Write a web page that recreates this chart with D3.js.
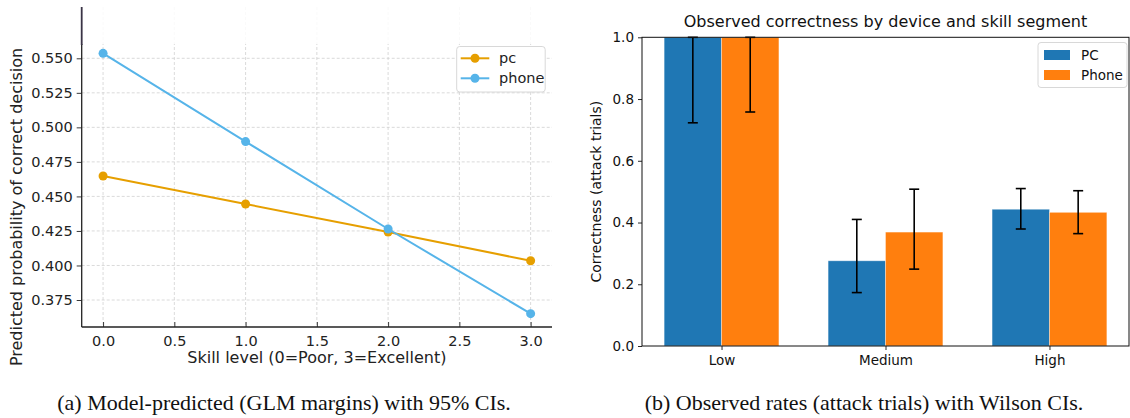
<!DOCTYPE html>
<html><head><meta charset="utf-8">
<script src="https://cdn.jsdelivr.net/npm/d3@7"></script>
<style>body{margin:0;background:#fff}svg{display:block}</style>
</head><body>
<svg id="c" width="1130" height="418"></svg>
<script>
// ---------- data ----------
const skillLevels = [0, 1, 2, 3];
const pcPred = [0.4648, 0.4445, 0.4242, 0.4034];
const phonePred = [0.5536, 0.4897, 0.4264, 0.3651];
const leftXTicks = [0.0, 0.5, 1.0, 1.5, 2.0, 2.5, 3.0];
const leftYTicks = [0.375, 0.400, 0.425, 0.450, 0.475, 0.500, 0.525, 0.550];
const leftSeriesNames = ["pc", "phone"];

const segments = ["Low", "Medium", "High"];
const pcRate = [1.0, 0.276, 0.443];
const pcLow = [0.723, 0.173, 0.379];
const pcHigh = [1.0, 0.410, 0.510];
const phoneRate = [1.0, 0.369, 0.433];
const phoneLow = [0.758, 0.249, 0.364];
const phoneHigh = [1.0, 0.508, 0.503];
const rightYTicks = [0.0, 0.2, 0.4, 0.6, 0.8, 1.0];
const rightSeriesNames = ["PC", "Phone"];

const svg = d3.select("#c");
const FONT = "DejaVu Sans, sans-serif";
const SERIF = "Liberation Serif, Times New Roman, serif";

// ---------- left chart ----------
const L = {x0: 81.7, x1: 552, y0: 7, y1: 327};
const lx = d3.scaleLinear().domain([-0.15, 3.15]).range([L.x0, L.x1]);
const ly = d3.scaleLinear().domain([0.375, 0.550]).range([300, 58.3]);
const gL = svg.append("g");

// grid
gL.append("g").selectAll("line").data(leftXTicks).join("line")
  .attr("x1", d => lx(d)).attr("x2", d => lx(d)).attr("y1", L.y0).attr("y2", L.y1)
  .attr("stroke", "#d0d0d0").attr("stroke-width", 0.8).attr("stroke-dasharray", "3,2");
gL.append("g").selectAll("line").data(leftYTicks).join("line")
  .attr("x1", L.x0).attr("x2", L.x1).attr("y1", d => ly(d)).attr("y2", d => ly(d))
  .attr("stroke", "#d0d0d0").attr("stroke-width", 0.8).attr("stroke-dasharray", "3,2");

// lines
const lineGen = d3.line().x((d, i) => lx(skillLevels[i])).y(d => ly(d));
const leftSeries = [{name: leftSeriesNames[0], vals: pcPred, color: "#E69F00"},
                    {name: leftSeriesNames[1], vals: phonePred, color: "#56B4E9"}];
leftSeries.forEach(s => {
  gL.append("path").datum(s.vals).attr("d", lineGen).attr("fill", "none")
    .attr("stroke", s.color).attr("stroke-width", 2);
  gL.append("g").selectAll("circle").data(s.vals).join("circle")
    .attr("cx", (d, i) => lx(skillLevels[i])).attr("cy", d => ly(d)).attr("r", 4.5)
    .attr("fill", s.color);
});

// faded top band
gL.append("rect").attr("x", 0).attr("y", 0).attr("width", 562).attr("height", 44)
  .attr("fill", "#fff").attr("opacity", 0.85);

// axes
const axL = d3.axisLeft(ly).tickValues(leftYTicks).tickFormat(d3.format(".3f")).tickSize(5).tickPadding(4);
const gAxL = gL.append("g").attr("transform", `translate(${L.x0},0)`).call(axL);
gAxL.select(".domain").remove();
const axB = d3.axisBottom(lx).tickValues(leftXTicks).tickFormat(d3.format(".1f")).tickSize(-5).tickPadding(9);
const gAxB = gL.append("g").attr("transform", `translate(0,${L.y1})`).call(axB);
gAxB.select(".domain").remove();
[gAxL, gAxB].forEach(g => {
  g.selectAll("text").attr("font-family", FONT).attr("font-size", 14.5).attr("fill", "#222");
  g.selectAll("line").attr("stroke", "#222").attr("stroke-width", 0.9);
});
gL.append("line").attr("x1", L.x0).attr("x2", L.x0).attr("y1", 44).attr("y2", L.y1)
  .attr("stroke", "#222").attr("stroke-width", 1.3);
gL.append("line").attr("x1", L.x0).attr("x2", L.x0).attr("y1", L.y0).attr("y2", 45)
  .attr("stroke", "#3a3346").attr("stroke-width", 1.8);
gL.append("line").attr("x1", L.x0).attr("x2", L.x1).attr("y1", L.y1).attr("y2", L.y1)
  .attr("stroke", "#222").attr("stroke-width", 1.3);

// labels
gL.append("text").attr("x", (L.x0 + L.x1) / 2).attr("y", 363).attr("text-anchor", "middle")
  .attr("font-family", FONT).attr("font-size", 16).attr("fill", "#222")
  .text("Skill level (0=Poor, 3=Excellent)");
gL.append("text").attr("transform", "translate(22,207) rotate(-90)").attr("text-anchor", "middle")
  .attr("font-family", FONT).attr("font-size", 16).attr("fill", "#222")
  .text("Predicted probability of correct decision");

// legend
const lgL = gL.append("g");
lgL.append("rect").attr("x", 456.7).attr("y", 46.5).attr("width", 88.5).attr("height", 45.5)
  .attr("rx", 3).attr("fill", "#fff").attr("stroke", "#d8d8d8").attr("stroke-width", 1);
leftSeries.forEach((s, i) => {
  const yy = 58.3 + i * 20;
  lgL.append("line").attr("x1", 460.7).attr("x2", 489.3).attr("y1", yy).attr("y2", yy)
    .attr("stroke", s.color).attr("stroke-width", 2);
  lgL.append("circle").attr("cx", 475).attr("cy", yy).attr("r", 4.5).attr("fill", s.color);
  lgL.append("text").attr("x", 499).attr("y", yy).attr("dy", "0.35em")
    .attr("font-family", FONT).attr("font-size", 14.5).attr("fill", "#222").text(s.name);
});

// caption
svg.append("text").attr("x", 284).attr("y", 410).attr("text-anchor", "middle")
  .attr("font-family", SERIF).attr("font-size", 22).attr("fill", "#111")
  .text("(a) Model-predicted (GLM margins) with 95% CIs.");

// ---------- right chart ----------
const R = {x0: 642, x1: 1129, y0: 37.3, y1: 346};
const rxIdx = d3.scaleLinear().domain([-0.485, 2.485]).range([R.x0, R.x1]);
const ry = d3.scaleLinear().domain([0, 1]).range([R.y1, R.y0]);
const barW = 0.35;
const gR = svg.append("g");

const rightSeries = [
  {name: rightSeriesNames[0], rate: pcRate, lo: pcLow, hi: pcHigh, color: "#1f77b4", off: -barW / 2},
  {name: rightSeriesNames[1], rate: phoneRate, lo: phoneLow, hi: phoneHigh, color: "#ff7f0e", off: barW / 2}
];
rightSeries.forEach(s => {
  gR.append("g").selectAll("rect").data(s.rate).join("rect")
    .attr("x", (d, i) => rxIdx(i + s.off - barW / 2))
    .attr("width", rxIdx(barW) - rxIdx(0))
    .attr("y", d => ry(d)).attr("height", d => ry(0) - ry(d))
    .attr("fill", s.color).attr("stroke", "#fff").attr("stroke-opacity", 0.45).attr("stroke-width", 0.8);
});
rightSeries.forEach(s => {
  const g = gR.append("g");
  s.rate.forEach((d, i) => {
    const cx = rxIdx(i + s.off);
    g.append("line").attr("x1", cx).attr("x2", cx).attr("y1", ry(s.lo[i])).attr("y2", ry(s.hi[i]))
      .attr("stroke", "#000").attr("stroke-width", 1.6);
    [s.lo[i], s.hi[i]].forEach(v => {
      g.append("line").attr("x1", cx - 5).attr("x2", cx + 5).attr("y1", ry(v)).attr("y2", ry(v))
        .attr("stroke", "#000").attr("stroke-width", 1.6);
    });
  });
});

const axRL = d3.axisLeft(ry).tickValues(rightYTicks).tickFormat(d3.format(".1f")).tickSize(4).tickPadding(4);
const gRL = gR.append("g").attr("transform", `translate(${R.x0},0)`).call(axRL);
gRL.select(".domain").remove();
const axRB = d3.axisBottom(rxIdx).tickValues(segments.map((d, i) => i)).tickFormat(i => segments[i]).tickSize(4).tickPadding(5);
const gRB = gR.append("g").attr("transform", `translate(0,${R.y1})`).call(axRB);
gRB.select(".domain").remove();
[gRL, gRB].forEach(g => {
  g.selectAll("text").attr("font-family", FONT).attr("font-size", 13.5).attr("fill", "#111");
  g.selectAll("line").attr("stroke", "#111").attr("stroke-width", 0.9);
});
// spines
gR.append("rect").attr("x", R.x0).attr("y", R.y0).attr("width", R.x1 - R.x0).attr("height", R.y1 - R.y0)
  .attr("fill", "none").attr("stroke", "#111").attr("stroke-width", 1);

gR.append("text").attr("x", (R.x0 + R.x1) / 2).attr("y", 27).attr("text-anchor", "middle")
  .attr("font-family", FONT).attr("font-size", 16).attr("fill", "#111")
  .text("Observed correctness by device and skill segment");
gR.append("text").attr("transform", `translate(601,${(R.y0 + R.y1) / 2}) rotate(-90)`).attr("text-anchor", "middle")
  .attr("font-family", FONT).attr("font-size", 14).attr("fill", "#111")
  .text("Correctness (attack trials)");

// legend
const lgR = gR.append("g");
lgR.append("rect").attr("x", 1038).attr("y", 42.5).attr("width", 89).attr("height", 45)
  .attr("rx", 3).attr("fill", "#fff").attr("stroke", "#d8d8d8").attr("stroke-width", 1);
rightSeries.forEach((s, i) => {
  const yy = 55 + i * 20;
  lgR.append("rect").attr("x", 1044).attr("y", yy - 5).attr("width", 26).attr("height", 10).attr("fill", s.color);
  lgR.append("text").attr("x", 1081).attr("y", yy).attr("dy", "0.35em")
    .attr("font-family", FONT).attr("font-size", 13.5).attr("fill", "#111").text(s.name);
});

svg.append("text").attr("x", 864).attr("y", 410).attr("text-anchor", "middle")
  .attr("font-family", SERIF).attr("font-size", 22).attr("fill", "#111")
  .text("(b) Observed rates (attack trials) with Wilson CIs.");
</script>
</body></html>
